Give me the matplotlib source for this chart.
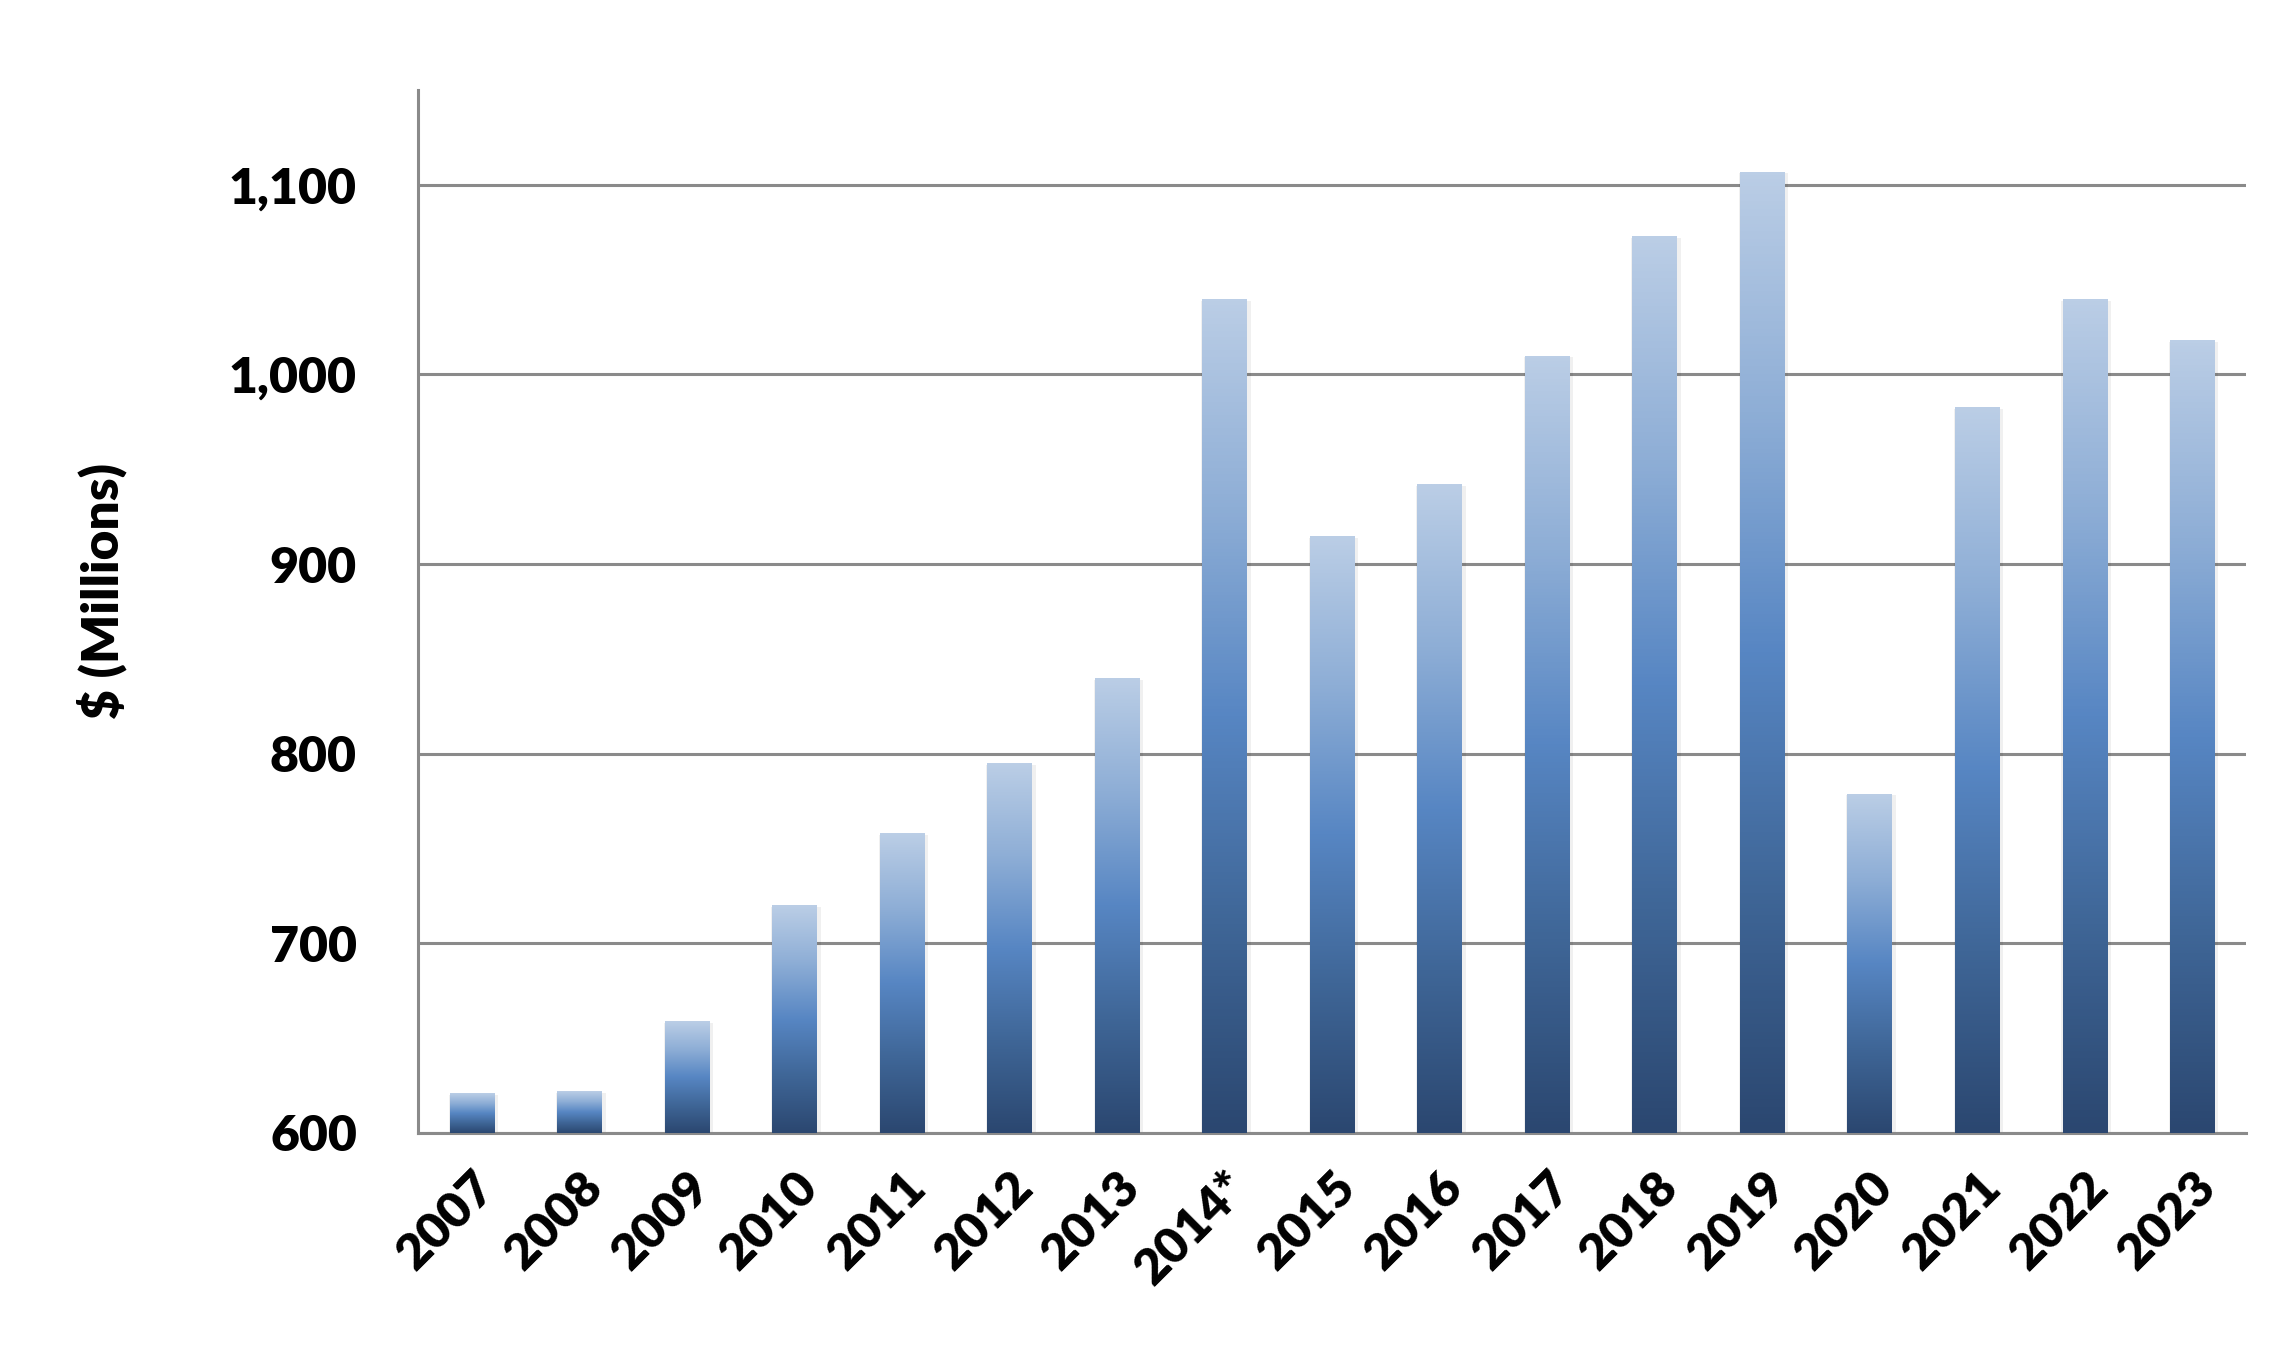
import numpy as np
import matplotlib.pyplot as plt
from matplotlib.colors import LinearSegmentedColormap
from matplotlib.ticker import FuncFormatter

plt.rcParams['font.family'] = ['Lato', 'DejaVu Sans']
plt.rcParams['font.weight'] = 'heavy'

years = ['2007', '2008', '2009', '2010', '2011', '2012', '2013', '2014*',
         '2015', '2016', '2017', '2018', '2019', '2020', '2021', '2022', '2023']
values = [621, 622, 659, 720, 758, 795, 840, 1040,
          915, 942, 1010, 1073, 1107, 779, 983, 1040, 1018]
y_ticks = [600, 700, 800, 900, 1000, 1100]

cmap = LinearSegmentedColormap.from_list(
    'bar_grad', ['#2B4770', '#3F6697', '#5786C3', '#8EAED6', '#BBCEE6'])
grad = np.linspace(0, 1, 256).reshape(-1, 1)

fig = plt.figure(figsize=(22.87, 13.52), dpi=100)
ax = fig.add_axes([0.1828, 0.162, 0.7992, 0.7714])

base = 600
x = np.arange(len(years))
bars = ax.bar(x, np.array(values) - base, bottom=base, width=0.41,
              color='none', edgecolor='none', zorder=3)
for b in bars:
    x0, y0 = b.get_x(), b.get_y()
    w, h = b.get_width(), b.get_height()
    # soft shadow
    ax.bar(x0 + w / 2 + 0.015, h + 0.5, bottom=y0 - 1.5, width=w + 0.05,
           color='#000000', alpha=0.06, zorder=2, edgecolor='none')
    im = ax.imshow(grad, cmap=cmap, origin='lower', aspect='auto',
                   extent=(x0, x0 + w, y0, y0 + h), zorder=3)
    im.set_clip_path(b)

ax.set_xlim(-0.5, len(years) - 0.5)
ax.set_ylim(600, 1150)
ax.set_yticks(y_ticks)
ax.yaxis.set_major_formatter(FuncFormatter(lambda v, p: f'{int(v):,}'))
ax.set_xticks(x)
ax.set_xticklabels(years, rotation=45, ha='right', rotation_mode='anchor')

ax.grid(axis='y', color='#8a8a8a', linewidth=2.2, zorder=1)
ax.set_axisbelow(True)
for s in ['top', 'right']:
    ax.spines[s].set_visible(False)
for s in ['left', 'bottom']:
    ax.spines[s].set_color('#8a8a8a')
    ax.spines[s].set_linewidth(2.2)
ax.tick_params(axis='both', length=0, labelsize=36)
ax.tick_params(axis='y', pad=44)
ax.tick_params(axis='x', pad=22)

ax.set_ylabel('$ (Millions)', fontsize=37, fontweight='heavy')
ax.yaxis.set_label_coords(-0.159, 0.52)

fig.savefig('out.png', dpi=100, facecolor='white')
